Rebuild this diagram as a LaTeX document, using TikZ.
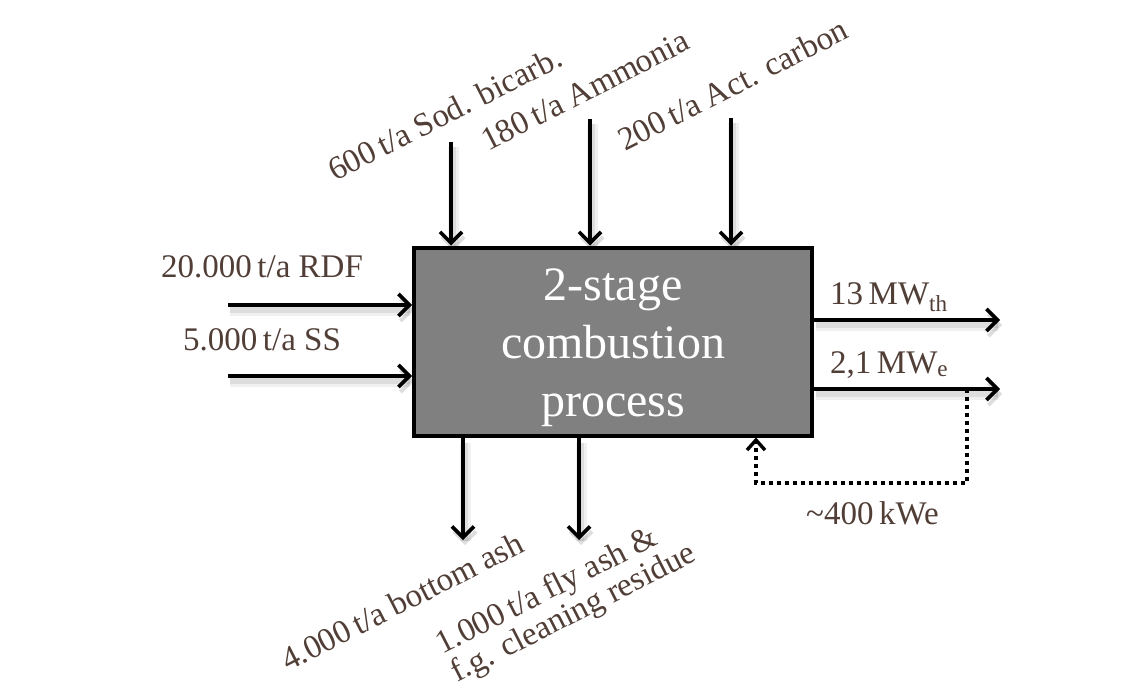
\documentclass[tikz,border=0pt]{standalone}
\usepackage{fontspec}
\setmainfont{Liberation Serif}
\usetikzlibrary{arrows.meta}
\definecolor{txt}{RGB}{80,62,55}
\definecolor{boxgray}{RGB}{128,128,128}
\begin{document}
\begin{tikzpicture}[x=1pt,y=1pt,
  shadowed/.style={preaction={draw=black,opacity=0.06,line width=11pt,transform canvas={shift={(2pt,-5pt)}}},
                   preaction={draw=black,opacity=0.08,line width=6pt,transform canvas={shift={(2pt,-5pt)}}}},
  flow/.style={draw=black,line width=4pt,-{Straight Barb[length=11pt,width=22pt,line width=3.6pt]},shadowed},
  fback/.style={draw=black,line width=4pt,dash pattern=on 4pt off 4pt,-{Straight Barb[length=10pt,width=18pt,line width=3.4pt]}},
  lbl/.style={text=txt,font=\fontsize{33}{38}\selectfont,inner sep=0pt,anchor=base west},
  procbox/.style={draw=black,line width=4pt,fill=boxgray,minimum width=398pt,minimum height=188pt,inner sep=0pt,
                  text=white,font=\fontsize{48}{58}\selectfont,align=center}
]
\useasboundingbox (0,-688) rectangle (1145,0);

% process box
\node[procbox] (box) at (613,-341.5) {\rule{0pt}{44pt}2-stage\\combustion\\process};

% free ends of connectors
\coordinate (rdf) at (228,-305);
\coordinate (ss) at (228,-376);
\coordinate (sod) at (451,-142);
\coordinate (amm) at (590,-119);
\coordinate (act) at (731,-118);
\coordinate (th) at (1000,-320);
\coordinate (el) at (1000,-389);
\coordinate (bot) at (463,-540);
\coordinate (fly) at (579,-540);
\coordinate (fbA) at (967,-389);
\coordinate (fbB) at (967,-483);
\coordinate (fbC) at (756,-483);

% inputs
\draw[flow] (rdf) -- (rdf -| box.west);
\draw[flow] (ss) -- (ss -| box.west);
\draw[flow] (sod) -- (sod |- box.north);
\draw[flow] (amm) -- (amm |- box.north);
\draw[flow] (act) -- (act |- box.north);
% outputs
\draw[flow] (th -| box.east) -- (th);
\draw[flow] (el -| box.east) -- (el);
\draw[flow] (bot |- box.south) -- (bot);
\draw[flow] (fly |- box.south) -- (fly);
% feedback
\draw[fback] (fbA) -- (fbB) -- (fbC) -- (fbC |- box.south);

% labels
\node[lbl] (lrdf) at (161,-277) {20.000\,t/a RDF};
\node[lbl] (lss) at (183,-350) {5.000\,t/a SS};
\node[lbl] (lth) at (830,-304) {13\,MW\textsubscript{th}};
\node[lbl] (lel) at (830,-373) {2,1\,MW\textsubscript{e}};
\node[lbl] (lfb) at (806,-524) {\textasciitilde400\,kWe};
\node[lbl,rotate=27] (lsod) at (335,-182) {600\,t/a Sod. bicarb.};
\node[lbl,rotate=27] (lamm) at (488,-152) {180\,t/a Ammonia};
\node[lbl,rotate=27] (lact) at (625,-152) {200\,t/a Act. carbon};
\node[lbl,rotate=27] (lbot) at (288,-672) {4.000\,t/a bottom ash};
\node[lbl,rotate=27] (lfly) at (442,-655) {1.000\,t/a fly ash \&};
\node[lbl,rotate=27] (lfg) at (457,-683) {f.g. cleaning residue};
\end{tikzpicture}
\end{document}
